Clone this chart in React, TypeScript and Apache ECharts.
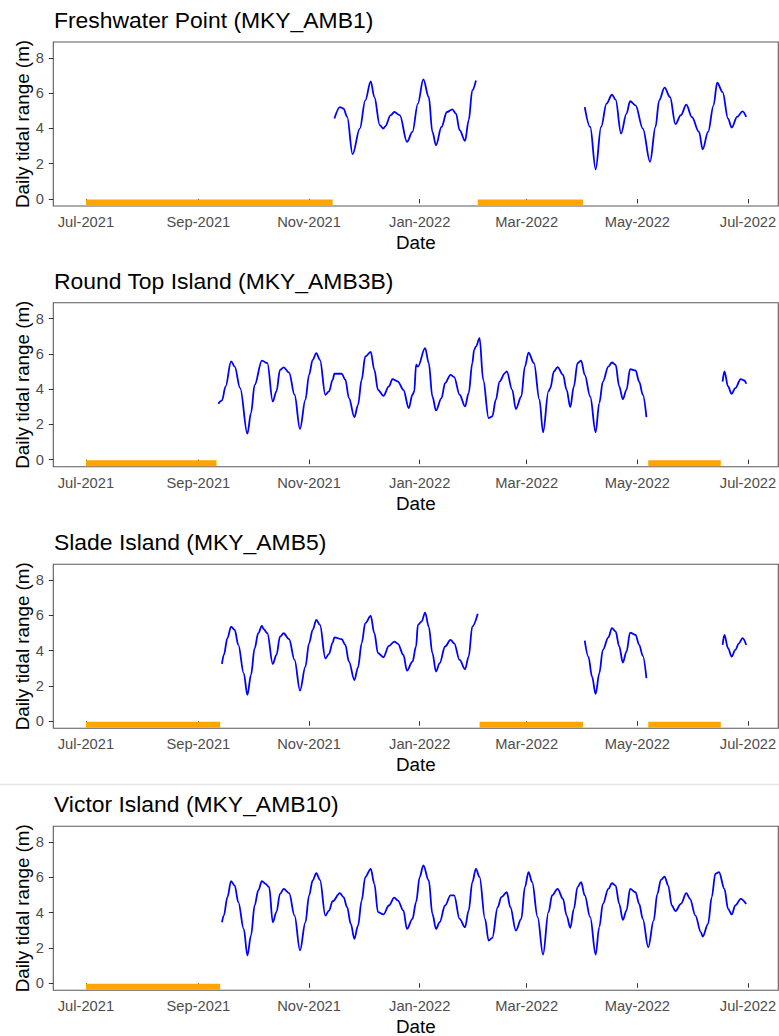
import React, { useEffect, useRef } from "react";
import * as echarts from "echarts";

type Pt = [string, number];
type Gap = [string, string];

// ---- Freshwater Point (MKY_AMB1) ----
const freshwaterA: Pt[] = [
  ["2021-11-15", 4.56], ["2021-11-18", 5.21], ["2021-11-20", 5.12], ["2021-11-22", 4.65],
  ["2021-11-25", 2.54], ["2021-11-29", 3.99], ["2021-12-02", 5.59], ["2021-12-05", 6.67],
  ["2021-12-07", 5.78], ["2021-12-10", 4.18], ["2021-12-12", 3.99], ["2021-12-13", 4.12],
  ["2021-12-16", 4.75], ["2021-12-18", 4.93], ["2021-12-21", 4.75], ["2021-12-25", 3.24],
  ["2021-12-28", 3.8], ["2021-12-31", 5.41], ["2022-01-03", 6.78], ["2022-01-06", 5.78],
  ["2022-01-08", 3.8], ["2022-01-10", 3.05], ["2022-01-13", 4.08], ["2022-01-16", 4.93],
  ["2022-01-19", 5.08], ["2022-01-21", 4.84], ["2022-01-23", 3.9], ["2022-01-26", 3.29],
  ["2022-01-28", 4.46], ["2022-01-30", 6.16], ["2022-02-01", 6.72],
];
const freshwaterB: Pt[] = [
  ["2022-04-02", 5.21], ["2022-04-05", 4.08], ["2022-04-08", 1.68], ["2022-04-11", 4.08],
  ["2022-04-14", 5.41], ["2022-04-17", 5.91], ["2022-04-19", 5.63], ["2022-04-22", 3.71],
  ["2022-04-25", 4.84], ["2022-04-27", 5.54], ["2022-04-30", 5.31], ["2022-05-04", 3.99],
  ["2022-05-08", 2.11], ["2022-05-11", 4.08], ["2022-05-13", 5.59], ["2022-05-16", 6.31],
  ["2022-05-19", 5.78], ["2022-05-22", 4.24], ["2022-05-25", 4.75], ["2022-05-28", 5.35],
  ["2022-05-31", 4.65], ["2022-06-04", 3.8], ["2022-06-06", 2.81], ["2022-06-09", 3.8],
  ["2022-06-12", 5.31], ["2022-06-14", 6.59], ["2022-06-17", 6.06], ["2022-06-20", 4.56],
  ["2022-06-22", 4.05], ["2022-06-25", 4.65], ["2022-06-28", 4.97], ["2022-06-30", 4.65],
];
const freshwaterGaps: Gap[] = [["2021-07-01", "2021-11-14"], ["2022-02-02", "2022-04-01"]];

// ---- Round Top Island (MKY_AMB3B) ----
const roundTopA: Pt[] = [
  ["2021-09-12", 3.17], ["2021-09-14", 3.36], ["2021-09-16", 4.15], ["2021-09-19", 5.57],
  ["2021-09-21", 5.28], ["2021-09-24", 4.06], ["2021-09-28", 1.47], ["2021-09-30", 2.64],
  ["2021-10-02", 4.24], ["2021-10-06", 5.62], ["2021-10-09", 5.47], ["2021-10-12", 3.3],
  ["2021-10-14", 3.87], ["2021-10-16", 5.09], ["2021-10-18", 5.23], ["2021-10-21", 4.94],
  ["2021-10-24", 3.68], ["2021-10-27", 1.74], ["2021-10-30", 3.4], ["2021-11-01", 4.81],
  ["2021-11-03", 5.66], ["2021-11-05", 6.04], ["2021-11-07", 5.66], ["2021-11-10", 3.68],
  ["2021-11-12", 3.87], ["2021-11-14", 4.53], ["2021-11-15", 4.87], ["2021-11-19", 4.87],
  ["2021-11-21", 4.53], ["2021-11-23", 3.49], ["2021-11-26", 2.41], ["2021-11-28", 3.11],
  ["2021-11-30", 4.53], ["2021-12-02", 5.85], ["2021-12-05", 6.11], ["2021-12-07", 5.09],
  ["2021-12-09", 3.96], ["2021-12-12", 3.62], ["2021-12-15", 4.15], ["2021-12-17", 4.57],
  ["2021-12-20", 4.43], ["2021-12-23", 3.96], ["2021-12-26", 2.92], ["2021-12-28", 3.68],
  ["2021-12-29", 3.87], ["2021-12-30", 5.38], ["2021-12-31", 5.28], ["2022-01-04", 6.32],
  ["2022-01-06", 5.47], ["2022-01-08", 3.58], ["2022-01-10", 2.79], ["2022-01-13", 3.49],
  ["2022-01-15", 4.34], ["2022-01-18", 4.81], ["2022-01-20", 4.68], ["2022-01-23", 3.68],
  ["2022-01-26", 3.02], ["2022-01-28", 3.77], ["2022-01-30", 5.47], ["2022-01-31", 6.22],
  ["2022-02-01", 6.41], ["2022-02-03", 6.89], ["2022-02-05", 4.53], ["2022-02-08", 2.36],
  ["2022-02-10", 2.45], ["2022-02-12", 3.4], ["2022-02-14", 4.43], ["2022-02-17", 4.91],
  ["2022-02-18", 5.0], ["2022-02-21", 3.96], ["2022-02-23", 2.87], ["2022-02-26", 3.58],
  ["2022-02-28", 5.28], ["2022-03-02", 6.07], ["2022-03-05", 5.47], ["2022-03-08", 3.4],
  ["2022-03-10", 1.55], ["2022-03-13", 3.87], ["2022-03-14", 4.06], ["2022-03-16", 5.0],
  ["2022-03-18", 5.25], ["2022-03-21", 4.81], ["2022-03-23", 3.96], ["2022-03-25", 2.98],
  ["2022-03-27", 4.15], ["2022-03-29", 5.47], ["2022-03-31", 5.62], ["2022-04-02", 4.81],
  ["2022-04-05", 3.58], ["2022-04-08", 1.55], ["2022-04-10", 3.21], ["2022-04-12", 4.43],
  ["2022-04-15", 5.28], ["2022-04-17", 5.51], ["2022-04-19", 5.38], ["2022-04-21", 4.15],
  ["2022-04-23", 3.43], ["2022-04-25", 3.96], ["2022-04-27", 5.13], ["2022-04-30", 5.06],
  ["2022-05-02", 4.43], ["2022-05-04", 3.68], ["2022-05-06", 2.41],
];
const roundTopB: Pt[] = [
  ["2022-06-17", 4.43], ["2022-06-18", 5.0], ["2022-06-20", 4.15], ["2022-06-22", 3.73],
  ["2022-06-24", 4.06], ["2022-06-27", 4.57], ["2022-06-29", 4.49], ["2022-06-30", 4.3],
];
const roundTopGaps: Gap[] = [["2021-07-01", "2021-09-11"], ["2022-05-07", "2022-06-16"]];

// ---- Slade Island (MKY_AMB5) ----
const sladeA: Pt[] = [
  ["2021-09-14", 3.25], ["2021-09-15", 3.76], ["2021-09-17", 4.71], ["2021-09-19", 5.37],
  ["2021-09-21", 5.18], ["2021-09-23", 4.33], ["2021-09-26", 2.72], ["2021-09-28", 1.49],
  ["2021-09-30", 2.63], ["2021-10-02", 4.14], ["2021-10-04", 4.99], ["2021-10-06", 5.41],
  ["2021-10-07", 5.22], ["2021-10-09", 4.99], ["2021-10-12", 3.25], ["2021-10-14", 3.76],
  ["2021-10-16", 4.8], ["2021-10-18", 4.99], ["2021-10-21", 4.65], ["2021-10-24", 3.48],
  ["2021-10-27", 1.74], ["2021-10-30", 3.1], ["2021-11-01", 4.42], ["2021-11-03", 5.18],
  ["2021-11-05", 5.75], ["2021-11-07", 5.46], ["2021-11-10", 3.57], ["2021-11-12", 3.82],
  ["2021-11-14", 4.46], ["2021-11-15", 4.76], ["2021-11-19", 4.65], ["2021-11-21", 4.33],
  ["2021-11-23", 3.38], ["2021-11-26", 2.34], ["2021-11-28", 3.06], ["2021-11-30", 4.42],
  ["2021-12-02", 5.56], ["2021-12-05", 5.97], ["2021-12-07", 4.99], ["2021-12-09", 3.86],
  ["2021-12-12", 3.63], ["2021-12-15", 4.27], ["2021-12-18", 4.52], ["2021-12-20", 4.39],
  ["2021-12-23", 3.76], ["2021-12-25", 2.87], ["2021-12-28", 3.38], ["2021-12-30", 4.24],
  ["2021-12-31", 5.46], ["2022-01-02", 5.65], ["2022-01-04", 6.16], ["2022-01-06", 5.37],
  ["2022-01-08", 3.86], ["2022-01-10", 2.82], ["2022-01-12", 3.29], ["2022-01-15", 4.24],
  ["2022-01-18", 4.61], ["2022-01-20", 4.42], ["2022-01-23", 3.48], ["2022-01-26", 2.95],
  ["2022-01-28", 3.67], ["2022-01-30", 5.37], ["2022-02-02", 6.09],
];
const sladeB: Pt[] = [
  ["2022-04-02", 4.57], ["2022-04-04", 3.67], ["2022-04-06", 2.53], ["2022-04-08", 1.55],
  ["2022-04-10", 2.72], ["2022-04-12", 4.05], ["2022-04-15", 4.76], ["2022-04-17", 5.28],
  ["2022-04-19", 5.09], ["2022-04-21", 4.24], ["2022-04-23", 3.33], ["2022-04-25", 3.95],
  ["2022-04-27", 5.03], ["2022-04-30", 4.9], ["2022-05-02", 4.33], ["2022-05-04", 3.71],
  ["2022-05-06", 2.44],
];
const sladeC: Pt[] = [
  ["2022-06-17", 4.33], ["2022-06-18", 4.9], ["2022-06-20", 4.14], ["2022-06-22", 3.67],
  ["2022-06-24", 4.05], ["2022-06-26", 4.42], ["2022-06-28", 4.71], ["2022-06-30", 4.33],
];
const sladeGaps: Gap[] = [
  ["2021-07-01", "2021-09-13"], ["2022-02-03", "2022-04-01"], ["2022-05-07", "2022-06-16"],
];

// ---- Victor Island (MKY_AMB10) ----
const victorA: Pt[] = [
  ["2021-09-14", 3.46], ["2021-09-15", 3.84], ["2021-09-17", 4.88], ["2021-09-19", 5.79],
  ["2021-09-21", 5.54], ["2021-09-23", 4.6], ["2021-09-26", 3.08], ["2021-09-28", 1.57],
  ["2021-09-30", 2.71], ["2021-10-02", 4.41], ["2021-10-04", 5.26], ["2021-10-06", 5.79],
  ["2021-10-08", 5.64], ["2021-10-10", 5.45], ["2021-10-12", 3.46], ["2021-10-14", 4.03],
  ["2021-10-16", 5.07], ["2021-10-18", 5.35], ["2021-10-21", 5.11], ["2021-10-24", 3.84],
  ["2021-10-27", 1.86], ["2021-10-30", 3.46], ["2021-11-01", 4.98], ["2021-11-03", 5.83],
  ["2021-11-05", 6.24], ["2021-11-07", 5.86], ["2021-11-10", 3.84], ["2021-11-12", 4.12],
  ["2021-11-14", 4.65], ["2021-11-18", 5.11], ["2021-11-20", 4.88], ["2021-11-22", 4.31],
  ["2021-11-24", 3.37], ["2021-11-26", 2.52], ["2021-11-28", 3.27], ["2021-11-30", 4.69],
  ["2021-12-02", 6.02], ["2021-12-05", 6.49], ["2021-12-07", 5.64], ["2021-12-09", 4.03],
  ["2021-12-12", 3.9], ["2021-12-15", 4.41], ["2021-12-18", 4.85], ["2021-12-20", 4.69],
  ["2021-12-23", 4.12], ["2021-12-25", 3.08], ["2021-12-28", 3.65], ["2021-12-30", 4.6],
  ["2022-01-01", 6.02], ["2022-01-03", 6.68], ["2022-01-06", 5.83], ["2022-01-08", 3.93],
  ["2022-01-10", 3.08], ["2022-01-12", 3.46], ["2022-01-15", 4.41], ["2022-01-18", 4.98],
  ["2022-01-20", 4.98], ["2022-01-23", 3.65], ["2022-01-26", 3.18], ["2022-01-28", 4.12],
  ["2022-01-30", 5.73], ["2022-02-01", 6.49], ["2022-02-03", 6.02], ["2022-02-06", 3.65],
  ["2022-02-08", 2.42], ["2022-02-10", 2.57], ["2022-02-13", 4.31], ["2022-02-15", 4.88],
  ["2022-02-18", 5.16], ["2022-02-20", 4.31], ["2022-02-23", 2.99], ["2022-02-26", 3.65],
  ["2022-02-28", 5.45], ["2022-03-02", 6.3], ["2022-03-04", 5.73], ["2022-03-07", 3.75],
  ["2022-03-10", 1.63], ["2022-03-13", 4.03], ["2022-03-15", 4.98], ["2022-03-18", 5.35],
  ["2022-03-21", 4.79], ["2022-03-23", 3.84], ["2022-03-25", 3.14], ["2022-03-27", 4.22],
  ["2022-03-29", 5.45], ["2022-03-31", 5.73], ["2022-04-02", 4.98], ["2022-04-05", 3.75],
  ["2022-04-08", 1.63], ["2022-04-10", 3.18], ["2022-04-12", 4.5], ["2022-04-15", 5.35],
  ["2022-04-17", 5.67], ["2022-04-19", 5.54], ["2022-04-21", 4.5], ["2022-04-23", 3.6],
  ["2022-04-25", 4.12], ["2022-04-27", 5.35], ["2022-04-30", 5.16], ["2022-05-02", 4.5],
  ["2022-05-04", 3.65], ["2022-05-07", 2.04], ["2022-05-10", 3.56], ["2022-05-12", 5.07],
  ["2022-05-14", 5.86], ["2022-05-16", 6.05], ["2022-05-18", 5.54], ["2022-05-20", 4.41],
  ["2022-05-22", 4.09], ["2022-05-25", 4.5], ["2022-05-28", 5.11], ["2022-05-30", 4.79],
  ["2022-06-02", 3.84], ["2022-06-05", 2.9], ["2022-06-06", 2.65], ["2022-06-09", 3.37],
  ["2022-06-11", 4.88], ["2022-06-13", 6.21], ["2022-06-15", 6.3], ["2022-06-18", 5.35],
  ["2022-06-20", 4.22], ["2022-06-22", 3.9], ["2022-06-24", 4.41], ["2022-06-27", 4.79],
  ["2022-06-30", 4.5],
];
const victorGaps: Gap[] = [["2021-07-01", "2021-09-13"]];

// ---- axes ----
const X_TICKS = ["2021-07-01", "2021-09-01", "2021-11-01", "2022-01-01", "2022-03-01", "2022-05-01", "2022-07-01"];
const Y_TICKS = [0, 2, 4, 6, 8];
const MONTHS = ["Jan", "Feb", "Mar", "Apr", "May", "Jun", "Jul", "Aug", "Sep", "Oct", "Nov", "Dec"];
const GAP_LEVEL = -0.2;

const PANELS = [
  { title: "Freshwater Point (MKY_AMB1)", segments: [freshwaterA, freshwaterB], gaps: freshwaterGaps },
  { title: "Round Top Island (MKY_AMB3B)", segments: [roundTopA, roundTopB], gaps: roundTopGaps },
  { title: "Slade Island (MKY_AMB5)", segments: [sladeA, sladeB, sladeC], gaps: sladeGaps },
  { title: "Victor Island (MKY_AMB10)", segments: [victorA], gaps: victorGaps },
];

const W = 779;
const H = 1036;
const PLOT_LEFT = 53.3;
const PLOT_W = 725;
const PLOT_H = 164;
const PLOT_TOPS = [42, 302.7, 564.3, 826.3];
const FONT = '"Liberation Sans", Arial, sans-serif';

const DAY = 86400000;

function toTime(s: string): number {
  const [y, m, d] = s.split("-").map(Number);
  return new Date(y, m - 1, d).getTime();
}

function buildOption() {
  const start = toTime("2021-07-01");
  const xMin = start - 18 * DAY;
  const xMax = start + 381.7 * DAY;
  const xTickTimes = X_TICKS.map(toTime);

  const grid: any[] = [];
  const xAxis: any[] = [];
  const yAxis: any[] = [];
  const series: any[] = [];
  const graphic: any[] = [];

  PANELS.forEach((p, i) => {
    const top = PLOT_TOPS[i];
    grid.push({
      left: PLOT_LEFT,
      top,
      width: PLOT_W,
      height: PLOT_H,
      show: true,
      borderColor: "#5a5a5a",
      borderWidth: 1.1,
      backgroundColor: "transparent",
      outerBoundsMode: "none",
    });
    // dates are plotted as millisecond timestamps on a value axis
    xAxis.push({
      type: "value",
      gridIndex: i,
      min: xMin,
      max: xMax,
      axisLine: { show: false },
      splitLine: { show: false },
      minorTick: { show: false },
      axisTick: {
        show: true,
        length: 4.5,
        lineStyle: { color: "#333333", width: 1 },
        customValues: xTickTimes,
      },
      axisLabel: {
        customValues: xTickTimes,
        color: "#4d4d4d",
        fontSize: 14.7,
        fontFamily: FONT,
        margin: 8.5,
        hideOverlap: false,
        showMinLabel: true,
        showMaxLabel: true,
        formatter: (v: number) => {
          const d = new Date(v);
          return `${MONTHS[d.getMonth()]}-${d.getFullYear()}`;
        },
      },
    });
    yAxis.push({
      type: "value",
      gridIndex: i,
      min: -0.4,
      max: 8.9,
      axisLine: { show: false },
      splitLine: { show: false },
      axisTick: {
        show: true,
        length: 4.5,
        lineStyle: { color: "#333333", width: 1 },
        customValues: Y_TICKS,
      },
      axisLabel: {
        customValues: Y_TICKS,
        color: "#4d4d4d",
        fontSize: 14.7,
        fontFamily: FONT,
        margin: 9.5,
      },
    });

    p.gaps.forEach(([a, b]) => {
      series.push({
        type: "line",
        xAxisIndex: i,
        yAxisIndex: i,
        data: [[toTime(a), GAP_LEVEL], [toTime(b), GAP_LEVEL]],
        symbol: "none",
        lineStyle: { color: "#FFA500", width: 6, cap: "butt" },
        silent: true,
        z: 2,
      });
    });

    p.segments.forEach((seg) => {
      series.push({
        type: "line",
        xAxisIndex: i,
        yAxisIndex: i,
        data: seg.map(([d, v]) => [toTime(d), v]),
        symbol: "none",
        showSymbol: false,
        smooth: 0.35,
        smoothMonotone: "x",
        lineStyle: { color: "#0000FF", width: 1.8 },
        clip: true,
        silent: true,
        z: 3,
      });
    });

    graphic.push({
      type: "text",
      x: 54,
      y: top - 22,
      style: {
        text: p.title,
        fontSize: 22.9,
        fontFamily: FONT,
        fill: "#000000",
        align: "left",
        verticalAlign: "middle",
      },
    });
    graphic.push({
      type: "text",
      x: 22.5,
      y: top + PLOT_H / 2,
      rotation: Math.PI / 2,
      style: {
        text: "Daily tidal range (m)",
        fontSize: 18.8,
        fontFamily: FONT,
        fill: "#000000",
        align: "center",
        verticalAlign: "middle",
      },
    });
    graphic.push({
      type: "text",
      x: PLOT_LEFT + PLOT_W / 2,
      y: top + PLOT_H + 36.5,
      style: {
        text: "Date",
        fontSize: 18.8,
        fontFamily: FONT,
        fill: "#000000",
        align: "center",
        verticalAlign: "middle",
      },
    });
  });

  // light divider above the last panel
  graphic.push({
    type: "line",
    shape: { x1: 0, y1: 784.5, x2: W, y2: 784.5 },
    style: { stroke: "#e6e6e6", lineWidth: 1.5 },
    silent: true,
  });

  return {
    animation: false,
    backgroundColor: "#ffffff",
    grid,
    xAxis,
    yAxis,
    series,
    graphic,
  };
}

export default function App() {
  const ref = useRef<HTMLDivElement>(null);

  useEffect(() => {
    if (!ref.current) return;
    const chart = echarts.init(ref.current, null, { renderer: "svg" });
    chart.setOption(buildOption() as any);
    return () => chart.dispose();
  }, []);

  return (
    <div
      ref={ref}
      style={{ position: "absolute", left: 0, top: 0, width: W, height: H, background: "#ffffff" }}
    />
  );
}
